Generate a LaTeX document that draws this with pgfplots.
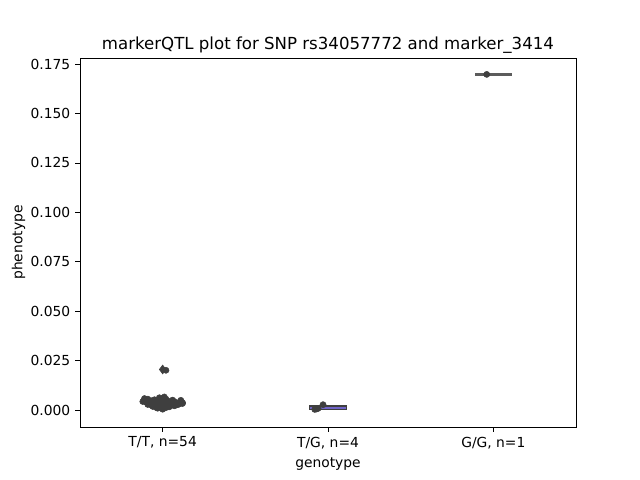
\documentclass[border=0pt]{standalone}
\usepackage{pgfplots}
\pgfplotsset{compat=1.18}
\usepackage{fontspec}
\setmainfont{DejaVu Sans}
\definecolor{edge}{RGB}{63,63,63}
\definecolor{boxA}{RGB}{76,114,176}
\definecolor{boxB}{RGB}{112,100,200}
\begin{document}
\begin{tikzpicture}
\begin{axis}[
  name=ax,
  scale only axis,
  width=4.96in, height=3.69in,
  xmin=-0.5, xmax=2.5,
  ymin=-0.0086, ymax=0.1781,
  xtick={0,1,2},
  xticklabels={{T/T, n=54},{T/G, n=4},{G/G, n=1}},
  ytick={0,0.025,0.05,0.075,0.1,0.125,0.15,0.175},
  yticklabel style={/pgf/number format/.cd,fixed,fixed zerofill,precision=3},
  /pgf/number format/assume math mode=true,
  tick label style={font=\fontsize{10}{12}\selectfont},
  label style={font=\fontsize{10}{12}\selectfont},
  xlabel={genotype}, ylabel={phenotype},
  title={markerQTL plot for SNP rs34057772 and marker\_3414},
  title style={font=\fontsize{12}{14}\selectfont, yshift=-6.5pt},
  tick align=outside,
  major tick length=3.5pt,
  tick style={black, line width=0.6pt},
  axis line style={line width=0.6pt},
  xtick pos=bottom, ytick pos=left,
  ylabel style={yshift=-3pt},
]
% T/T box
\addplot[draw=edge, fill=boxA, line width=1.1pt] coordinates {(-0.11,0.0029) (0.11,0.0029) (0.11,0.0046) (-0.11,0.0046)} -- cycle;
\addplot[draw=edge, line width=1.1pt] coordinates {(0,0.0005) (0,0.0029)};
\addplot[draw=edge, line width=1.1pt] coordinates {(0,0.0046) (0,0.0066)};
\addplot[draw=edge, line width=1.1pt] coordinates {(-0.11,0.0037) (0.11,0.0037)};
% T/G box
\addplot[draw=edge, fill=boxB, line width=0.9pt] coordinates {(0.89,0.0004) (1.11,0.0004) (1.11,0.0023) (0.89,0.0023)} -- cycle;
\addplot[draw=edge, line width=0.9pt] coordinates {(0.89,0.0016) (1.11,0.0016)};
% G/G
\addplot[draw=edge!85, line width=1.6pt] coordinates {(1.89,0.1698) (2.11,0.1698)};
% outlier diamond
\addplot[only marks, mark=diamond*, mark size=3.2pt, draw=edge, fill=edge] coordinates {(0,0.0205)};
% strip points
\addplot[only marks, mark=*, mark size=2.2pt, draw=edge, fill=edge] coordinates {
(-0.11,0.0058) (-0.09,0.0055) (-0.07,0.0047) (-0.05,0.0052) (-0.03,0.0044) (-0.01,0.0048)
(0.01,0.0041) (0.03,0.0046) (0.05,0.0038) (0.07,0.0043) (0.09,0.0036) (0.11,0.0049)
(-0.10,0.0040) (-0.08,0.0037) (-0.06,0.0033) (-0.04,0.0030) (-0.02,0.0035) (0.00,0.0032)
(0.02,0.0029) (0.04,0.0031) (0.06,0.0027) (0.08,0.0034) (0.10,0.0030) (0.12,0.0037)
(-0.09,0.0028) (-0.07,0.0025) (-0.05,0.0022) (-0.03,0.0026) (-0.01,0.0020) (0.01,0.0023)
(0.03,0.0019) (0.05,0.0024) (0.07,0.0021) (0.09,0.0027) (-0.06,0.0018) (-0.02,0.0015)
(0.02,0.0012) (0.00,0.0008) (0.04,0.0016) (-0.04,0.0013) (0.00,0.0004) (0.01,0.0066)
(0.00,0.0058) (-0.01,0.0052) (0.02,0.0055) (-0.02,0.0062) (0.06,0.0050) (-0.08,0.0045)
(0.11,0.0041) (0.12,0.0033) (-0.12,0.0043) (0.08,0.0025) (-0.03,0.0009) (0.02,0.0201)
};
\addplot[only marks, mark=*, mark size=2.2pt, draw=edge, fill=edge] coordinates {
(0.93,0.0005) (0.92,0.0003) (0.94,0.0008) (0.97,0.0027)
};
\addplot[only marks, mark=*, mark size=2.2pt, draw=edge, fill=edge] coordinates {
(1.96,0.1698)
};
\end{axis}
\useasboundingbox ([xshift=-0.80in,yshift=-0.53in]ax.south west) rectangle ++(6.4in,4.8in);
\end{tikzpicture}
\end{document}
